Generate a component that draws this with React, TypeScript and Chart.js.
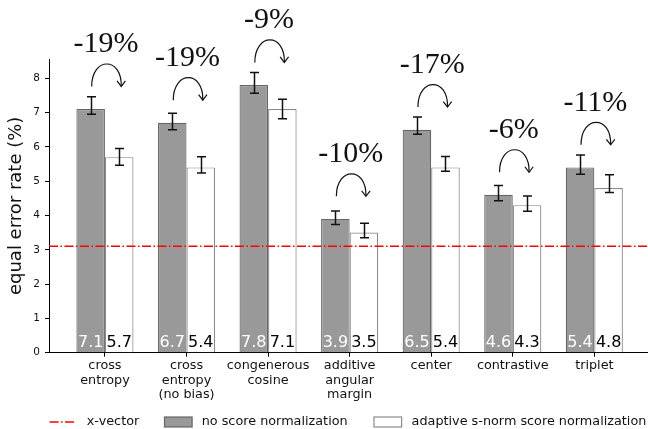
import React, { useEffect, useRef } from 'react';
import { Chart, registerables } from 'chart.js';

Chart.register(...registerables);

// ---- data ----
const categories: string[][] = [
  ['cross', 'entropy'],
  ['cross', 'entropy', '(no bias)'],
  ['congenerous', 'cosine'],
  ['additive', 'angular', 'margin'],
  ['center'],
  ['contrastive'],
  ['triplet'],
];
const noNorm = [7.1, 6.7, 7.8, 3.9, 6.5, 4.6, 5.4];
const noNormErrUp = [0.36, 0.28, 0.37, 0.23, 0.37, 0.27, 0.36];
const noNormErrDown = [0.15, 0.2, 0.24, 0.16, 0.13, 0.17, 0.2];
const sNorm = [5.7, 5.4, 7.1, 3.5, 5.4, 4.3, 4.8];
const sNormErrUp = [0.25, 0.31, 0.29, 0.27, 0.32, 0.27, 0.39];
const sNormErrDown = [0.24, 0.16, 0.28, 0.15, 0.11, 0.18, 0.13];
const changes = ['-19%', '-19%', '-9%', '-10%', '-17%', '-6%', '-11%'];
const xvector = 3.1;
const yTicks = [0, 1, 2, 3, 4, 5, 6, 7, 8];
const legendLabels = ['x-vector', 'no score normalization', 'adaptive s-norm score normalization'];

// ---- style / layout constants ----
const X_MIN = -0.686;
const X_MAX = 6.658;
const Y_MAX = 8.56;
const SANS = 'DejaVu Sans';
const SERIF = 'Liberation Serif';
const GRAY = '#999999';
const GRAY_EDGE = '#666666';
const WHITE_EDGE = '#8a8a8a';
const RED = '#ff0000';
const DASHDOT = [9, 2.5, 1.5, 2.5];

const overlayPlugin = {
  id: 'overlay',
  afterDatasetsDraw(chart: any) {
    const ctx = chart.ctx as CanvasRenderingContext2D;
    const ys = chart.scales.y;
    const m1 = chart.getDatasetMeta(1);
    const m2 = chart.getDatasetMeta(2);
    ctx.save();

    // error bars
    const drawErr = (meta: any, vals: number[], up: number[], down: number[]) => {
      meta.data.forEach((bar: any, i: number) => {
        const x = Math.round(bar.x) + 0.5;
        const yt = ys.getPixelForValue(vals[i] + up[i]);
        const yb = ys.getPixelForValue(vals[i] - down[i]);
        ctx.strokeStyle = '#111';
        ctx.lineWidth = 1.5;
        ctx.setLineDash([]);
        ctx.beginPath();
        ctx.moveTo(x, yt);
        ctx.lineTo(x, yb);
        ctx.moveTo(x - 4.5, yt);
        ctx.lineTo(x + 4.5, yt);
        ctx.moveTo(x - 4.5, yb);
        ctx.lineTo(x + 4.5, yb);
        ctx.stroke();
      });
    };
    drawErr(m1, noNorm, noNormErrUp, noNormErrDown);
    drawErr(m2, sNorm, sNormErrUp, sNormErrDown);

    // value labels at the bottom of the bars
    const y0 = ys.getPixelForValue(0);
    ctx.font = `16px "${SANS}"`;
    ctx.textAlign = 'center';
    ctx.textBaseline = 'alphabetic';
    m1.data.forEach((bar: any, i: number) => {
      ctx.fillStyle = '#ffffff';
      ctx.fillText(noNorm[i].toFixed(1), bar.x, y0 - 6);
    });
    m2.data.forEach((bar: any, i: number) => {
      ctx.fillStyle = '#000000';
      ctx.fillText(sNorm[i].toFixed(1), bar.x, y0 - 6);
    });

    // percentage change labels and curved arrows
    m1.data.forEach((bar: any, i: number) => {
      const wbar = m2.data[i];
      const cx = (bar.x + wbar.x) / 2 + 1;
      const base = ys.getPixelForValue(noNorm[i] + 1.65);
      ctx.font = `30px "${SERIF}"`;
      ctx.fillStyle = '#111';
      ctx.textAlign = 'center';
      ctx.fillText(changes[i], cx, base);

      const x1 = bar.x + 1;
      const x2 = wbar.x + 2;
      const yS = base + 34;
      ctx.strokeStyle = '#111';
      ctx.lineWidth = 1.2;
      ctx.beginPath();
      ctx.moveTo(x1, yS);
      ctx.bezierCurveTo(x1, yS - 30, x2 + 1, yS - 30, x2, yS);
      ctx.stroke();
      // arrow head
      ctx.beginPath();
      ctx.moveTo(x2 - 4.2, yS - 5.5);
      ctx.lineTo(x2, yS);
      ctx.lineTo(x2 + 4.2, yS - 5.5);
      ctx.stroke();
    });
    ctx.restore();
  },
  afterDraw(chart: any) {
    const ctx = chart.ctx as CanvasRenderingContext2D;
    ctx.save();
    const ly = 422;
    ctx.font = `12.8px "${SANS}"`;
    ctx.textBaseline = 'middle';
    ctx.textAlign = 'left';
    // x-vector sample
    ctx.strokeStyle = RED;
    ctx.lineWidth = 1.5;
    ctx.setLineDash(DASHDOT);
    ctx.beginPath();
    ctx.moveTo(49.6, ly);
    ctx.lineTo(75.6, ly);
    ctx.stroke();
    ctx.setLineDash([]);
    ctx.fillStyle = '#111';
    ctx.fillText(legendLabels[0], 86.8, ly);
    // gray box
    ctx.fillStyle = GRAY;
    ctx.fillRect(164.5, ly - 5, 27.6, 10);
    ctx.strokeStyle = GRAY_EDGE;
    ctx.lineWidth = 1.2;
    ctx.strokeRect(164.5, ly - 5, 27.6, 10);
    ctx.fillStyle = '#111';
    ctx.fillText(legendLabels[1], 201.7, ly);
    // white box
    ctx.fillStyle = '#ffffff';
    ctx.fillRect(374, ly - 5, 27.6, 10);
    ctx.strokeStyle = WHITE_EDGE;
    ctx.strokeRect(374, ly - 5, 27.6, 10);
    ctx.fillStyle = '#111';
    ctx.fillText(legendLabels[2], 411.6, ly);
    ctx.restore();
  },
};

export default function App() {
  const ref = useRef<HTMLCanvasElement | null>(null);

  useEffect(() => {
    if (!ref.current) return;
    const chart = new Chart(ref.current, {
      type: 'bar',
      data: {
        datasets: [
          {
            type: 'line',
            label: legendLabels[0],
            data: [
              { x: X_MIN, y: xvector },
              { x: X_MAX, y: xvector },
            ],
            borderColor: RED,
            borderWidth: 1.5,
            borderDash: DASHDOT,
            pointRadius: 0,
            order: 0,
          } as any,
          {
            label: legendLabels[1],
            data: noNorm.map((v, i) => ({ x: i, y: v })),
            backgroundColor: GRAY,
            borderColor: GRAY_EDGE,
            borderWidth: 1.2,
            categoryPercentage: 0.7,
            barPercentage: 1,
            order: 1,
          },
          {
            label: legendLabels[2],
            data: sNorm.map((v, i) => ({ x: i, y: v })),
            backgroundColor: '#ffffff',
            borderColor: WHITE_EDGE,
            borderWidth: 1.2,
            categoryPercentage: 0.7,
            barPercentage: 1,
            order: 1,
          },
        ],
      },
      options: {
        animation: false,
        responsive: true,
        maintainAspectRatio: false,
        devicePixelRatio: 1,
        layout: { padding: { top: 59, right: 0, bottom: 0, left: 0 } },
        plugins: {
          legend: { display: false },
          tooltip: { enabled: false },
        },
        scales: {
          x: {
            type: 'linear',
            min: X_MIN,
            max: X_MAX,
            offset: false,
            afterBuildTicks: (s: any) => {
              s.ticks = categories.map((_, i) => ({ value: i }));
            },
            afterFit: (s: any) => {
              s.height = 76.3;
            },
            ticks: {
              autoSkip: false,
              maxRotation: 0,
              padding: 2,
              color: '#111',
              font: { family: SANS, size: 12.8, lineHeight: 1.13 },
              callback: (v: any) => categories[Math.round(Number(v))] as any,
            },
            grid: { offset: false, drawOnChartArea: false, drawTicks: true, tickLength: 4, color: '#000', lineWidth: 1 },
            border: { display: true, color: '#000', width: 1 },
          },
          y: {
            type: 'linear',
            min: 0,
            max: Y_MAX,
            afterBuildTicks: (s: any) => {
              s.ticks = yTicks.map((v) => ({ value: v }));
            },
            afterFit: (s: any) => {
              s.width = 49;
            },
            ticks: {
              padding: 5,
              color: '#111',
              font: { family: SANS, size: 10.5 },
              callback: (v: any) => String(v),
            },
            grid: { drawOnChartArea: false, drawTicks: true, tickLength: 4, color: '#000', lineWidth: 1 },
            border: { display: true, color: '#000', width: 1 },
            title: {
              display: true,
              text: 'equal error rate (%)',
              color: '#111',
              font: { family: SANS, size: 18 },
              padding: { top: 6, bottom: 0 },
            },
          },
        },
      },
      plugins: [overlayPlugin],
    });
    return () => chart.destroy();
  }, []);

  return (
    <div style={{ position: 'absolute', left: 0, top: 0, width: 648, height: 429, background: '#fff' }}>
      <canvas ref={ref} style={{ width: '100%', height: '100%' }} />
    </div>
  );
}
